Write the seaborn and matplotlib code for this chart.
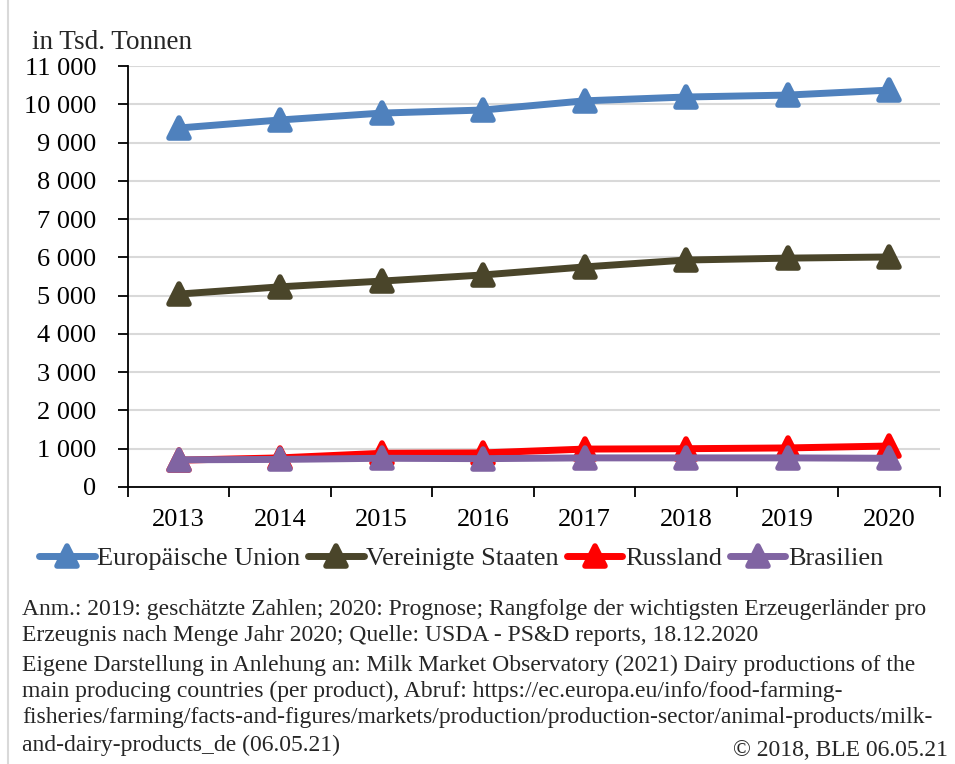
import pandas as pd
import matplotlib.pyplot as plt
import seaborn as sns
from matplotlib.markers import MarkerStyle
from matplotlib.ticker import FuncFormatter, MultipleLocator

years = [2013, 2014, 2015, 2016, 2017, 2018, 2019, 2020]
eu = [9380, 9590, 9770, 9850, 10090, 10190, 10240, 10370]
usa = [5040, 5230, 5380, 5540, 5750, 5930, 5980, 6010]
russia = [700, 760, 880, 890, 990, 1000, 1020, 1070]
brazil = [710, 720, 750, 740, 760, 760, 760, 750]

countries = ["Europäische Union", "Vereinigte Staaten", "Russland", "Brasilien"]
colors = ["#4F81BD", "#4A452A", "#FF0000", "#8064A2"]

df = pd.DataFrame({
    "Jahr": years * 4,
    "Menge": eu + usa + russia + brazil,
    "Land": [c for c in countries for _ in years],
})

sns.set_style("white")
plt.rcParams["font.family"] = ["Liberation Serif", "DejaVu Serif"]

tri = MarkerStyle("^", joinstyle="round")

fig = plt.figure(figsize=(9.55, 7.64), dpi=100)
ax = fig.add_axes([0.134, 0.3626, 0.850, 0.551])

sns.lineplot(data=df, x="Jahr", y="Menge", hue="Land", palette=colors,
             marker=tri, markersize=14, markeredgewidth=4, linewidth=5,
             legend=False, ax=ax)
# seaborn draws white marker edges; give them the line colour
for line in ax.lines:
    line.set_markeredgecolor(line.get_color())

ax.set_xlim(2012.5, 2020.5)
ax.set_ylim(0, 11000)
ax.set_xticks(years)
ax.xaxis.set_minor_locator(MultipleLocator(1, offset=0.5))
ax.yaxis.set_major_locator(MultipleLocator(1000))
ax.yaxis.set_major_formatter(FuncFormatter(lambda v, p: f"{int(v):,}".replace(",", " ")))
ax.grid(axis="y", color="#D9D9D9", linewidth=1.5)
ax.set_axisbelow(True)
for s in ["top", "right"]:
    ax.spines[s].set_visible(False)
for s in ["left", "bottom"]:
    ax.spines[s].set_color("black")
    ax.spines[s].set_linewidth(1.3)
ax.tick_params(axis="y", which="major", direction="out", length=7, width=1.3,
               left=True, labelsize=19, pad=16, colors="black")
ax.tick_params(axis="x", which="major", length=0, labelsize=19, pad=16, labelcolor="black")
ax.tick_params(axis="x", which="minor", direction="out", length=7, width=1.3,
               bottom=True, color="black")
ax.set_xlabel("")
ax.set_ylabel("")

fig.text(0.034, 0.945, "in Tsd. Tonnen", fontsize=19.5, va="center")

handles = [plt.Line2D([], [], color=c, linewidth=5, marker=tri, markersize=14,
                      markeredgewidth=4) for c in colors]
fig.legend(handles, countries, loc="center", bbox_to_anchor=(0.483, 1 - 558 / 764),
           ncol=4, frameon=False, fontsize=19, handlelength=2.1, handletextpad=0.1,
           columnspacing=0.3)

notes = [
    "Anm.: 2019: geschätzte Zahlen; 2020: Prognose; Rangfolge der wichtigsten Erzeugerländer pro",
    "Erzeugnis nach Menge Jahr 2020; Quelle: USDA - PS&D reports, 18.12.2020",
    "Eigene Darstellung in Anlehung an: Milk Market Observatory (2021) Dairy productions of the",
    "main producing countries (per product), Abruf: https://ec.europa.eu/info/food-farming-",
    "fisheries/farming/facts-and-figures/markets/production/production-sector/animal-products/milk-",
    "and-dairy-products_de (06.05.21)",
]
ys = [610, 635, 665, 691, 718, 745]
for t, y in zip(notes, ys):
    fig.text(22 / 955, 1 - y / 764, t, fontsize=17, va="center")
fig.text(948 / 955, 1 - 751 / 764, "© 2018, BLE 06.05.21", fontsize=17, va="center", ha="right")

fig.add_artist(plt.Line2D([0.008, 0.008], [0, 1], color="#D9D9D9", linewidth=1.5))

fig.savefig("out.png", dpi=100)
